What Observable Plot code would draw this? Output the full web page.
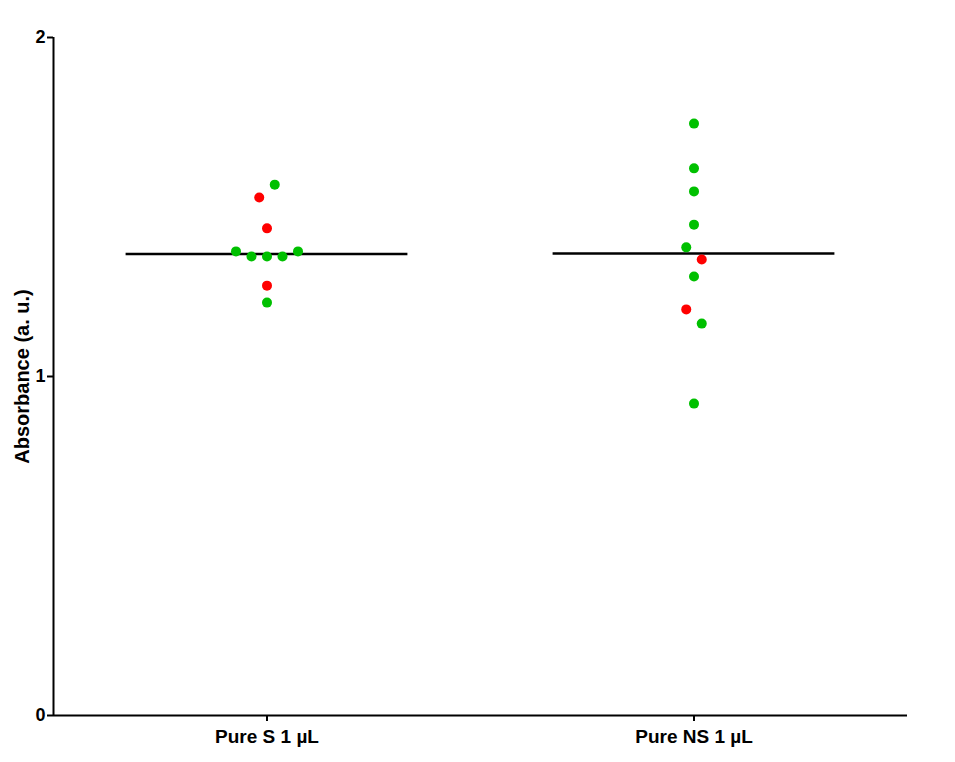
<!DOCTYPE html>
<html>
<head>
<meta charset="utf-8">
<script src="https://cdn.jsdelivr.net/npm/d3@7"></script>
<script src="https://cdn.jsdelivr.net/npm/@observablehq/plot@0.6"></script>
<style>
  html, body { margin: 0; padding: 0; background: #fff; }
</style>
</head>
<body>
<div id="chart"></div>
<script>
// Categories and tick labels
const categories = ["Pure S 1 µL", "Pure NS 1 µL"];
const yTicks = [0, 1, 2];
const yLabel = "Absorbance (a. u.)";

// Group "Pure S 1 µL"
const valuesS = [1.566, 1.528, 1.437, 1.369, 1.354, 1.354, 1.354, 1.369, 1.268, 1.218];
const colorsS = ["g", "r", "r", "g", "g", "g", "g", "g", "r", "g"];
const slotsS  = [0.5, -0.5, 0, -2, -1, 0, 1, 2, 0, 0];

// Group "Pure NS 1 µL"
const valuesNS = [1.746, 1.614, 1.546, 1.448, 1.381, 1.345, 1.295, 1.198, 1.156, 0.920];
const colorsNS = ["g", "g", "g", "g", "g", "r", "g", "r", "g", "g"];
const slotsNS  = [0, 0, 0, 0, -0.5, 0.5, 0, -0.5, 0.5, 0];

const groups = [
  {cat: 1, values: valuesS, colors: colorsS, slots: slotsS},
  {cat: 2, values: valuesNS, colors: colorsNS, slots: slotsNS}
];

const points = groups.flatMap(g => g.values.map((v, i) => ({
  cat: g.cat, value: v, color: g.colors[i], slot: g.slots[i]
})));
const medians = groups.map(g => ({cat: g.cat, median: d3.median(g.values)}));

const slotWidth = 0.0363;   // horizontal spread of tied points (x units)
const halfLine = 0.33;      // half-length of median line (x units)

const chart = Plot.plot({
  width: 955,
  height: 762,
  marginLeft: 53,
  marginRight: 48,
  marginTop: 37,
  marginBottom: 47,
  style: {
    fontFamily: "'Liberation Sans', Arial, sans-serif",
    fontWeight: "bold",
    fontSize: "18px",
    background: "#fff",
    color: "#000"
  },
  x: {domain: [0.5, 2.5], axis: null},
  y: {domain: [0, 2], axis: null},
  color: {domain: ["g", "r"], range: ["#00c000", "#ff0000"]},
  marks: [
    Plot.axisY({ticks: yTicks, tickSize: 6, tickPadding: 2, tickFormat: d => String(d), label: null, strokeWidth: 2}),
    Plot.axisX({ticks: [1, 2], tickSize: 6, tickPadding: 8, tickFormat: d => categories[d - 1], label: null, fontSize: 19, strokeWidth: 2}),
    Plot.ruleX([0.5], {stroke: "#000", strokeWidth: 2}),
    Plot.ruleY([0], {stroke: "#000", strokeWidth: 2}),
    Plot.ruleY(medians, {y: "median", x1: d => d.cat - halfLine, x2: d => d.cat + halfLine, stroke: "#000", strokeWidth: 2.5}),
    Plot.dot(points, {x: d => d.cat + d.slot * slotWidth, y: "value", r: 5, fill: "color", stroke: null}),
    Plot.text([yLabel], {frameAnchor: "left", textAnchor: "middle", lineAnchor: "middle", dx: -31, rotate: -90, fontSize: 20, fontWeight: "bold", fill: "#000"})
  ]
});
document.getElementById("chart").appendChild(chart);
</script>
</body>
</html>
